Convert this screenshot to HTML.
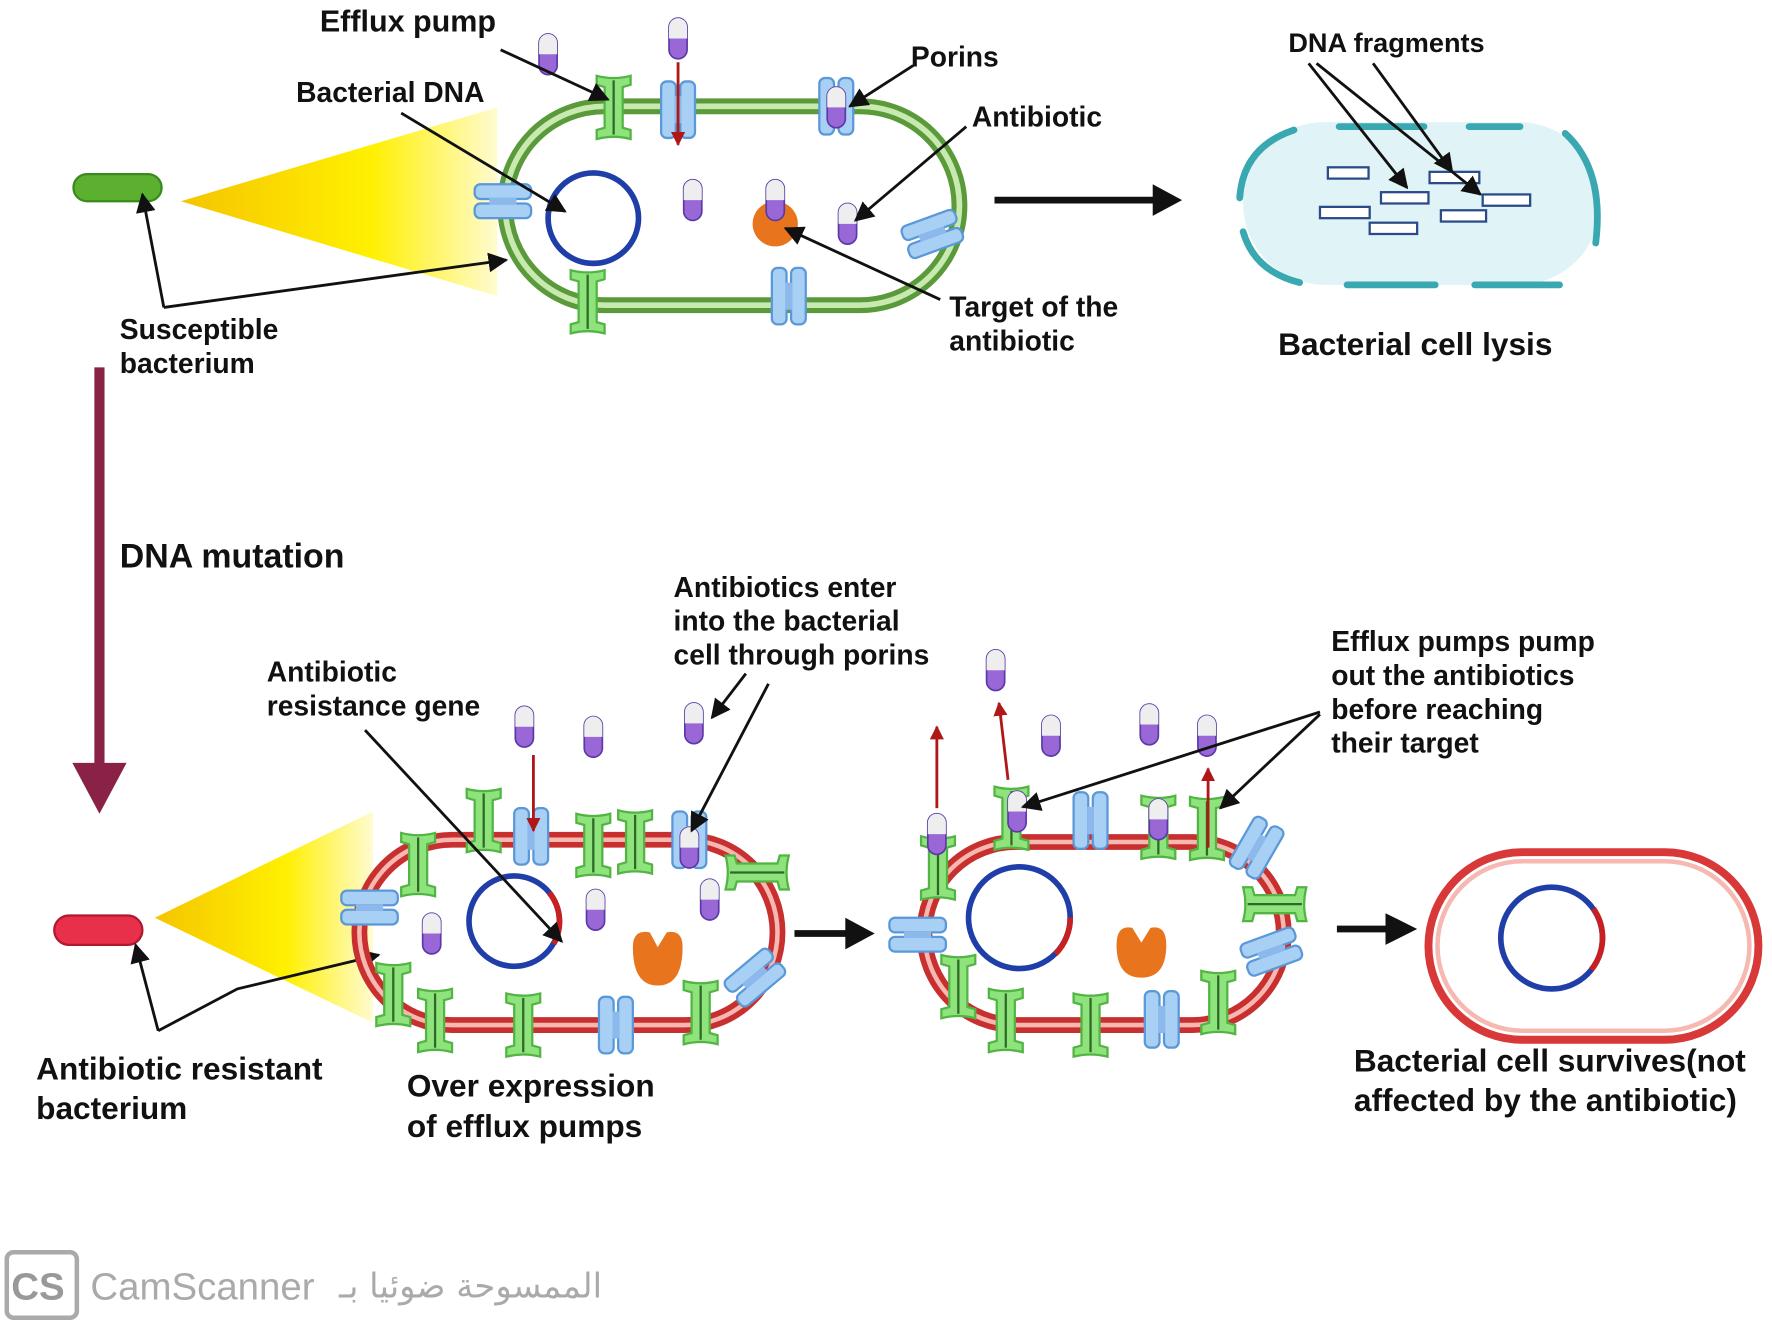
<!DOCTYPE html>
<html><head><meta charset="utf-8"><style>
html,body{margin:0;padding:0;background:#fff}
svg{display:block}
text{font-family:"Liberation Sans",sans-serif;font-weight:bold;fill:#111}
</style></head><body>
<svg width="1772" height="1328" viewBox="0 0 1568 1175" xmlns="http://www.w3.org/2000/svg">
<defs>
<linearGradient id="yg" x1="0" x2="1" y1="0" y2="0"><stop offset="0" stop-color="#f5c400"/><stop offset="0.6" stop-color="#fff000"/><stop offset="1" stop-color="#fffbd0"/></linearGradient>
<marker id="ah" viewBox="0 0 10 10" refX="9" refY="5" markerWidth="7" markerHeight="7" orient="auto"><path d="M0,0L10,5L0,10z" fill="#111"/></marker>
<marker id="rh" viewBox="0 0 10 10" refX="9" refY="5" markerWidth="5" markerHeight="5" orient="auto"><path d="M0,0L10,5L0,10z" fill="#b01818"/></marker>
<g id="pump"><path d="M-15,-28 Q0,-24 15,-28 L15,-20 L8,-18 L8,18 L15,20 L15,28 Q0,24 -15,28 L-15,20 L-8,18 L-8,-18 L-15,-20Z" fill="#8fe37c" stroke="#52b443" stroke-width="2"/><line x1="0" y1="-24" x2="0" y2="24" stroke="#2d6a25" stroke-width="2"/></g>
<g id="porin"><rect x="-15" y="-25" width="13" height="50" rx="5" fill="#a8d0f4" stroke="#5a98d8" stroke-width="2"/><rect x="2" y="-25" width="13" height="50" rx="5" fill="#a8d0f4" stroke="#5a98d8" stroke-width="2"/><rect x="-3" y="-12" width="6" height="24" fill="#8cb8ec"/></g>
<g id="pill"><rect x="-8" y="-18" width="16" height="36" rx="8" fill="#9a68d6" stroke="#5b3aa8" stroke-width="1.5"/><path d="M-8,0 L-8,-10 A8,8 0 0 1 8,-10 L8,0Z" fill="#eee"/></g>
</defs>

<!-- top: susceptible -->
<rect x="65" y="154" width="78" height="24" rx="12" fill="#5bb030" stroke="#3a8a1e" stroke-width="2"/>
<polygon points="160,178 440,95 440,262" fill="url(#yg)"/>
<rect x="447" y="94" width="402" height="176" rx="88" fill="none" stroke="#5a9a3a" stroke-width="14"/>
<rect x="447" y="94" width="402" height="176" rx="88" fill="none" stroke="#c8eab0" stroke-width="5"/>
<circle cx="525" cy="193" r="40" fill="none" stroke="#1f3ea8" stroke-width="5"/>
<use href="#pump" x="543" y="95"/>
<use href="#porin" x="600" y="97"/>
<use href="#porin" x="740" y="94"/>
<use href="#porin" x="445" y="178" transform="rotate(90 445 178)"/>
<use href="#porin" x="825" y="207" transform="rotate(70 825 207)"/>
<use href="#pump" x="520" y="267"/>
<use href="#porin" x="698" y="262"/>
<use href="#pill" x="485" y="48"/>
<use href="#pill" x="600" y="34"/>
<use href="#pill" x="740" y="95"/>
<use href="#pill" x="613" y="177"/>
<use href="#pill" x="750" y="198"/>
<circle cx="686" cy="198" r="20" fill="#e8741e"/>
<use href="#pill" x="686" y="177"/>
<line x1="600" y1="55" x2="600" y2="128" stroke="#b01818" stroke-width="2.5" marker-end="url(#rh)"/>
<text x="283" y="28" font-size="27">Efflux pump</text>
<line x1="443" y1="44" x2="538" y2="88" stroke="#111" stroke-width="2.5" marker-end="url(#ah)"/>
<text x="262" y="90" font-size="25">Bacterial DNA</text>
<line x1="355" y1="100" x2="500" y2="187" stroke="#111" stroke-width="2.5" marker-end="url(#ah)"/>
<text x="806" y="59" font-size="25">Porins</text>
<line x1="808" y1="58" x2="752" y2="94" stroke="#111" stroke-width="2.5" marker-end="url(#ah)"/>
<text x="860" y="112" font-size="25">Antibiotic</text>
<line x1="855" y1="112" x2="757" y2="195" stroke="#111" stroke-width="2.5" marker-end="url(#ah)"/>
<text x="840" y="280" font-size="25">Target of the</text>
<text x="840" y="310" font-size="25">antibiotic</text>
<line x1="832" y1="265" x2="695" y2="202" stroke="#111" stroke-width="2.5" marker-end="url(#ah)"/>
<text x="106" y="300" font-size="25">Susceptible</text>
<text x="106" y="330" font-size="25">bacterium</text>
<polyline points="145,272 126,172" fill="none" stroke="#111" stroke-width="2.5" marker-end="url(#ah)"/>
<line x1="145" y1="272" x2="448" y2="230" stroke="#111" stroke-width="2.5" marker-end="url(#ah)"/>
<line x1="880" y1="177" x2="1030" y2="177" stroke="#111" stroke-width="6"/>
<polygon points="1020,163 1046,177 1020,191" fill="#111"/>

<!-- lysis -->
<rect x="1100" y="108" width="316" height="144" rx="72" fill="#e0f3f6"/>
<rect x="1100" y="108" width="316" height="144" rx="72" fill="none" stroke="#fff" stroke-width="0"/>
<g fill="none" stroke="#3aa8b0" stroke-width="6" stroke-linecap="round">
<path d="M1145,115 Q1100,130 1097,175"/><path d="M1100,205 Q1110,240 1150,250"/>
<line x1="1185" y1="112" x2="1260" y2="112"/><line x1="1300" y1="112" x2="1345" y2="112"/>
<line x1="1192" y1="252" x2="1270" y2="252"/><line x1="1305" y1="252" x2="1380" y2="252"/>
<path d="M1385,118 Q1420,150 1412,215"/>
</g>
<g fill="#fff" stroke="#2a4a8a" stroke-width="2">
<rect x="1175" y="148" width="36" height="10"/><rect x="1265" y="152" width="44" height="10"/><rect x="1222" y="170" width="42" height="10"/>
<rect x="1168" y="183" width="44" height="10"/><rect x="1312" y="172" width="42" height="10"/><rect x="1275" y="186" width="40" height="10"/><rect x="1212" y="197" width="42" height="10"/>
</g>
<text x="1140" y="46" font-size="24">DNA fragments</text>
<line x1="1158" y1="56" x2="1245" y2="166" stroke="#111" stroke-width="2.5" marker-end="url(#ah)"/>
<line x1="1165" y1="56" x2="1310" y2="172" stroke="#111" stroke-width="2.5" marker-end="url(#ah)"/>
<line x1="1215" y1="56" x2="1285" y2="152" stroke="#111" stroke-width="2.5" marker-end="url(#ah)"/>
<text x="1131" y="314" font-size="28">Bacterial cell lysis</text>

<!-- mutation arrow -->
<line x1="88" y1="325" x2="88" y2="680" stroke="#8a2248" stroke-width="9"/>
<polygon points="64,675 112,675 88,720" fill="#8a2248"/>
<text x="106" y="502" font-size="30">DNA mutation</text>

<!-- resistant bacterium -->
<rect x="48" y="810" width="78" height="26" rx="13" fill="#e8304a" stroke="#b01830" stroke-width="2"/>
<polygon points="137,812 330,718 330,905" fill="url(#yg)"/>
<text x="32" y="955" font-size="28">Antibiotic resistant</text>
<text x="32" y="990" font-size="28">bacterium</text>
<polyline points="140,912 120,836" fill="none" stroke="#111" stroke-width="2.5" marker-end="url(#ah)"/>
<polyline points="140,912 210,875 335,845" fill="none" stroke="#111" stroke-width="2.5" marker-end="url(#ah)"/>

<!-- cell 1 -->
<rect x="318" y="743" width="370" height="164" rx="82" fill="none" stroke="#c83030" stroke-width="14"/>
<rect x="318" y="743" width="370" height="164" rx="82" fill="none" stroke="#f6b8b0" stroke-width="4"/>
<circle cx="455" cy="815" r="40" fill="none" stroke="#1f3ea8" stroke-width="5"/>
<path d="M486,790 A40,40 0 0 1 490,835" fill="none" stroke="#c82020" stroke-width="5"/>
<path d="M560,838 Q560,822 575,825 L582,838 L590,825 Q604,822 604,838 Q604,872 582,872 Q560,872 560,838Z" fill="#e8741e"/>
<use href="#pump" x="370" y="765"/><use href="#pump" x="428" y="726"/><use href="#porin" x="470" y="740"/>
<use href="#pump" x="525" y="748"/><use href="#pump" x="562" y="745"/><use href="#porin" x="610" y="743"/>
<use href="#pump" x="670" y="772" transform="rotate(90 670 772)"/>
<use href="#porin" x="327" y="803" transform="rotate(90 327 803)"/>
<use href="#pump" x="348" y="880"/><use href="#pump" x="385" y="903"/><use href="#pump" x="463" y="907"/>
<use href="#porin" x="545" y="907"/><use href="#pump" x="620" y="896"/>
<use href="#porin" x="668" y="865" transform="rotate(50 668 865)"/>
<use href="#pill" x="464" y="643"/><use href="#pill" x="525" y="652"/><use href="#pill" x="614" y="640"/>
<use href="#pill" x="610" y="750"/><use href="#pill" x="382" y="826"/><use href="#pill" x="527" y="805"/><use href="#pill" x="628" y="796"/>
<line x1="472" y1="668" x2="472" y2="735" stroke="#b01818" stroke-width="2.5" marker-end="url(#rh)"/>
<text x="236" y="603" font-size="25">Antibiotic</text>
<text x="236" y="633" font-size="25">resistance gene</text>
<line x1="323" y1="646" x2="497" y2="833" stroke="#111" stroke-width="2.5" marker-end="url(#ah)"/>
<text x="596" y="528" font-size="25">Antibiotics enter</text>
<text x="596" y="558" font-size="25">into the bacterial</text>
<text x="596" y="588" font-size="25">cell through porins</text>
<line x1="660" y1="596" x2="630" y2="635" stroke="#111" stroke-width="2.5" marker-end="url(#ah)"/>
<line x1="680" y1="605" x2="612" y2="735" stroke="#111" stroke-width="2.5" marker-end="url(#ah)"/>
<text x="360" y="970" font-size="28">Over expression</text>
<text x="360" y="1006" font-size="28">of efflux pumps</text>
<line x1="703" y1="826" x2="755" y2="826" stroke="#111" stroke-width="6"/>
<polygon points="748,812 774,826 748,840" fill="#111"/>

<!-- cell 2 -->
<rect x="818" y="745" width="318" height="162" rx="81" fill="none" stroke="#c83030" stroke-width="14"/>
<rect x="818" y="745" width="318" height="162" rx="81" fill="none" stroke="#f6b8b0" stroke-width="4"/>
<circle cx="902" cy="812" r="45" fill="none" stroke="#1f3ea8" stroke-width="5"/>
<path d="M934,844 A45,45 0 0 0 947,812" fill="none" stroke="#c82020" stroke-width="5"/>
<path d="M988,836 Q988,818 1002,821 L1010,834 L1018,821 Q1032,818 1032,836 Q1032,865 1010,865 Q988,865 988,836Z" fill="#e8741e"/>
<use href="#pump" x="830" y="768"/><use href="#pump" x="895" y="724"/><use href="#porin" x="965" y="726"/>
<use href="#pump" x="1025" y="732"/><use href="#pump" x="1068" y="733"/>
<use href="#porin" x="1112" y="750" transform="rotate(30 1112 750)"/>
<use href="#pump" x="1128" y="800" transform="rotate(90 1128 800)"/>
<use href="#porin" x="812" y="827" transform="rotate(90 812 827)"/>
<use href="#porin" x="1125" y="842" transform="rotate(70 1125 842)"/>
<use href="#pump" x="848" y="873"/><use href="#pump" x="890" y="903"/><use href="#pump" x="965" y="907"/>
<use href="#porin" x="1028" y="902"/><use href="#pump" x="1078" y="887"/>
<use href="#pill" x="881" y="593"/><use href="#pill" x="930" y="651"/><use href="#pill" x="1017" y="641"/><use href="#pill" x="1068" y="651"/>
<use href="#pill" x="829" y="738"/><use href="#pill" x="900" y="718"/><use href="#pill" x="1025" y="725"/>
<line x1="829" y1="715" x2="829" y2="643" stroke="#b01818" stroke-width="2.5" marker-end="url(#rh)"/>
<line x1="892" y1="690" x2="884" y2="622" stroke="#b01818" stroke-width="2.5" marker-end="url(#rh)"/>
<line x1="1069" y1="750" x2="1069" y2="680" stroke="#b01818" stroke-width="2.5" marker-end="url(#rh)"/>
<text x="1178" y="576" font-size="25">Efflux pumps pump</text>
<text x="1178" y="606" font-size="25">out the antibiotics</text>
<text x="1178" y="636" font-size="25">before reaching</text>
<text x="1178" y="666" font-size="25">their target</text>
<line x1="1168" y1="630" x2="905" y2="714" stroke="#111" stroke-width="2.5" marker-end="url(#ah)"/>
<line x1="1168" y1="632" x2="1080" y2="715" stroke="#111" stroke-width="2.5" marker-end="url(#ah)"/>
<line x1="1183" y1="822" x2="1232" y2="822" stroke="#111" stroke-width="6"/>
<polygon points="1226,808 1254,822 1226,836" fill="#111"/>

<!-- cell 3 -->
<rect x="1264" y="754" width="292" height="166" rx="83" fill="none" stroke="#d83838" stroke-width="7"/>
<rect x="1272" y="762" width="276" height="150" rx="75" fill="none" stroke="#f6b8b0" stroke-width="4"/>
<circle cx="1373" cy="830" r="45" fill="none" stroke="#1f3ea8" stroke-width="5"/>
<path d="M1410,804 A45,45 0 0 1 1408,858" fill="none" stroke="#c82020" stroke-width="5"/>
<text x="1198" y="948" font-size="28">Bacterial cell survives(not</text>
<text x="1198" y="983" font-size="28">affected by the antibiotic)</text>

<!-- watermark -->
<rect x="6" y="1108" width="62" height="58" rx="6" fill="none" stroke="#aaa" stroke-width="4"/>
<text x="10" y="1150" font-size="34" style="fill:#999">CS</text>
<text x="80" y="1150" font-size="34" style="fill:#aaa;font-weight:normal">CamScanner</text>
<text x="300" y="1148" font-size="30" style="fill:#aaa;font-weight:normal;font-family:'DejaVu Sans',sans-serif">الممسوحة ضوئيا بـ</text>
</svg>
</body></html>
